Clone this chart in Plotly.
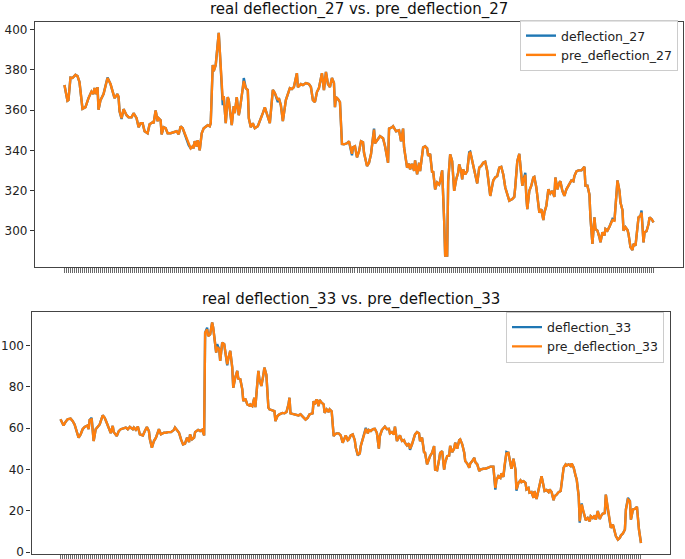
import plotly.graph_objects as go

# --- deflection_27 (top panel) ---
t27 = [0, 3, 4, 6, 8, 11, 13, 15, 18, 21, 24, 27, 29, 30, 32, 33, 34, 36, 39, 41,
       43, 46, 48, 50, 53, 54, 55, 57, 59, 62, 64, 67, 69, 72, 74, 76, 78, 80, 83, 85,
       88, 89, 91, 93, 94, 96, 97, 99, 101, 103, 106, 109, 112, 114, 116, 118, 121, 124, 126, 128,
       129, 130, 132, 133, 135, 137, 139, 143, 145, 146, 148, 149, 151, 154, 155, 158, 159, 161, 163, 164,
       167, 169, 170, 172, 174, 175, 178, 179, 181, 183, 184, 186, 188, 190, 193, 196, 198, 200, 203, 205,
       208, 210, 213, 214, 216, 218, 221, 223, 225, 227, 229, 232, 233, 236, 238, 241, 244, 246, 248, 250,
       252, 254, 255, 257, 259, 261, 263, 265, 267, 269, 270, 271, 273, 275, 277, 279, 282, 284, 287, 288,
       290, 292, 294, 296, 298, 299, 302, 304, 306, 309, 310, 313, 315, 318, 320, 323, 324, 327, 328, 331,
       334, 336, 338, 339, 342, 344, 345, 347, 349, 350, 352, 354, 355, 358, 360, 362, 363, 365, 367, 368,
       370, 372, 374, 375, 377, 379, 380, 382, 383, 385, 387, 389, 391, 393, 394, 396, 397, 398, 400, 402,
       404, 405, 407, 409, 410, 412, 414, 416, 418, 420, 422, 424, 425, 428, 430, 432, 434, 436, 438, 440,
       442, 444, 447, 449, 450, 452, 454, 455, 457, 458, 460, 461, 462, 464, 466, 468, 469, 471, 473, 474,
       476, 478, 479, 481, 483, 485, 487, 489, 490, 492, 494, 495, 497, 499, 501, 503, 504, 506, 508, 509,
       511, 513, 516, 518, 519, 520, 522, 524, 525, 527, 529, 530, 532, 534, 535, 537, 539, 540, 542, 544,
       545, 547, 549, 550, 552, 554, 555, 557, 558, 560, 562, 563, 565, 567, 568, 570, 572, 573, 575, 576,
       578, 579, 581, 583, 584, 586, 588]

pre27 = [372.5, 364.7, 365, 376.2, 376, 377.6, 377, 374, 360.7, 361.5, 366, 369.3, 368, 371, 368, 371.5, 360.2, 365, 368, 371.5,
         376, 373, 369, 366, 368, 366.5, 359.4, 356, 360.5, 357.5, 356.5, 356.5, 358.5, 356, 351.5, 353.5, 353.5, 349.5, 348.5, 353,
         354, 353.5, 359.8, 354.5, 356, 355, 347.9, 351.5, 351, 348.5, 348.5, 349, 349.5, 348, 352, 351, 347, 343, 341, 342,
         341, 344.5, 342, 345, 340, 348.5, 351, 352.5, 352, 353.5, 382.5, 379.5, 382.5, 398.5, 390, 365, 367, 353.5, 366.5, 365,
         352.5, 362, 358.5, 366.5, 357.5, 360, 371, 374.5, 371, 370, 356, 351.5, 353.5, 351, 352, 355.5, 358.5, 361.4, 356, 353.5,
         370.1, 368.5, 365, 366, 362.5, 354.5, 365, 368, 371, 370.5, 371.5, 378.4, 371.5, 373, 372.5, 373.5, 373, 371.5, 365, 364,
         369, 371, 373.5, 378.4, 370, 379, 373, 371.5, 376, 373.5, 361.5, 366.5, 365.5, 364, 343.2, 343, 343.5, 344.5, 338.3, 341.5,
         342, 336.5, 339.5, 344.5, 344, 338.8, 332.2, 333.8, 338.2, 350.3, 343.5, 345.8, 347, 346, 342, 333.8, 350.8, 351.5, 352, 349.5,
         350, 344.5, 350.8, 341.4, 331.4, 333.3, 330.5, 333.3, 329.7, 335, 328.1, 333.8, 329.7, 341.4, 342, 341, 337.3, 338.2, 328.9, 329.7,
         320.6, 324, 323, 324.6, 330, 305, 287.6, 287.6, 324.6, 338, 334.6, 319.8, 325.5, 328.9, 333, 329.5, 325.5, 330.5, 328, 329.7,
         338.3, 339.3, 334.6, 330, 327.2, 323.5, 331.4, 332.2, 333.8, 334.3, 329.7, 319.8, 317.3, 325, 326.5, 327.2, 331.4, 331.8, 328, 321.5,
         318.5, 314.9, 315.7, 316.8, 321.9, 334.6, 338.3, 332.2, 322.4, 325, 327.8, 316.8, 310.7, 319.8, 322.4, 326.5, 326.8, 321.5, 311.5, 309,
         310.7, 305.3, 309, 312.4, 320.6, 318.5, 319.8, 316.8, 326.5, 320.6, 324, 324.6, 319.8, 317.3, 320.6, 322.4, 323, 325, 324.6, 327.2,
         329.5, 330, 330, 331.4, 331.8, 322.4, 322.4, 318, 306.6, 293.4, 306.6, 300.8, 300, 296.7, 294.2, 299.2, 297.6, 300.8, 300, 302,
         303.3, 305.3, 305, 311.5, 325, 319.8, 314, 310.2, 300, 301.7, 300.3, 298.4, 291.7, 290.4, 293.4, 292.5, 302.5, 306.6, 307.4, 309,
         294.2, 299.2, 299.7, 303.3, 306.6, 305.8, 304.1]

real27 = [372.5, 364.7, 365, 376.2, 376, 377.6, 377, 374, 360.7, 361.5, 366, 369.3, 368, 371, 368, 371.5, 360.2, 365, 368, 371.5,
          376.3, 373, 369, 366, 368, 366.5, 359.4, 355.6, 360.5, 357.5, 356.5, 356.5, 358.5, 356, 351.5, 353.5, 353.5, 349.5, 348.5, 353,
          354, 353.5, 359.8, 354.5, 356, 355, 347.9, 351.5, 351, 348.5, 348.5, 349, 349.5, 348, 352, 351, 347, 342.6, 341, 342,
          341, 344.5, 342, 345, 340, 348.5, 351, 352.5, 352, 353.5, 382.5, 379.5, 382.5, 398.5, 390, 362.5, 367, 353.5, 366.5, 365,
          352.5, 362, 358.5, 366.5, 357.5, 360, 371, 376, 371, 370, 356, 351.5, 353.5, 351, 352, 355.5, 358.5, 361.4, 356, 353.5,
          370.1, 368.5, 364, 366, 362.5, 354.5, 365, 368, 371, 370.5, 371.5, 378.4, 371.5, 373, 372.5, 373.5, 373, 371.5, 365, 364,
          369, 371, 373.5, 378.4, 370, 379, 373, 371.5, 376, 373.5, 361.5, 366.5, 365.5, 364, 343.2, 343, 343.5, 344.5, 337.5, 341.5,
          342, 336.5, 339.5, 344.5, 344, 338.8, 332.2, 333.8, 338.2, 350.8, 343.5, 345.8, 347, 346, 342, 333.8, 350.8, 351.5, 352, 349.5,
          350, 344.5, 350.8, 341.4, 331.4, 333.3, 330.5, 333.3, 329.7, 335, 328.1, 333.8, 329.7, 341.4, 342, 341, 337.3, 338.2, 328.9, 329.7,
          320.6, 324, 323, 324.6, 330, 305, 287.6, 287.6, 324.6, 338, 334.6, 319.8, 325.5, 328.9, 333, 329.5, 325.5, 330.5, 328, 329.7,
          339, 339.3, 334.6, 330, 327.2, 323.5, 331.4, 332.2, 333.8, 334.3, 329.7, 318.8, 317.3, 325, 326.5, 327.2, 331.4, 331.8, 328, 321.5,
          318.5, 314.9, 315.7, 316.8, 321.9, 334.6, 338.3, 332.2, 322.4, 325, 328.8, 316.8, 310.7, 319.8, 322.4, 326.5, 326.8, 321.5, 311.5, 309,
          310.7, 305.3, 309, 312.4, 320.6, 318.5, 319.8, 316.8, 326.5, 320.6, 324, 324.6, 319.8, 317.3, 320.6, 322.4, 323, 325, 324.6, 327.2,
          329.5, 330, 330, 331.4, 331.8, 322.4, 322.4, 318, 306.6, 293.4, 306.6, 300.8, 300, 296.7, 294.2, 299.2, 297.6, 300.8, 300, 302,
          303.3, 305.8, 305, 311.5, 325, 319.8, 314, 310.2, 300, 301.7, 300.3, 298.4, 291.7, 290.4, 293.4, 292.5, 302.5, 306.6, 307.4, 310,
          294.2, 299.2, 299.7, 303.3, 306.6, 305.8, 304.1]

# --- deflection_33 (bottom panel) ---
t33 = [0, 2, 3, 5, 7, 10, 12, 14, 16, 18, 20, 22, 24, 27, 28, 29, 31, 33, 35, 37,
       39, 42, 44, 46, 48, 50, 52, 53, 56, 58, 60, 63, 65, 67, 69, 72, 73, 75, 77, 79,
       82, 84, 86, 88, 89, 91, 93, 95, 97, 98, 100, 103, 105, 107, 110, 113, 114, 117, 118, 120,
       122, 124, 126, 128, 129, 131, 133, 134, 137, 139, 141, 143, 144, 146, 147, 149, 151, 152, 154, 155,
       156, 158, 159, 161, 163, 164, 166, 167, 169, 171, 172, 174, 176, 177, 179, 181, 182, 184, 186, 188,
       189, 191, 193, 194, 197, 198, 200, 202, 203, 205, 207, 208, 211, 213, 214, 216, 218, 221, 223, 225,
       227, 228, 229, 232, 234, 237, 239, 242, 244, 246, 248, 251, 252, 253, 255, 257, 258, 260, 262, 263,
       265, 267, 268, 270, 272, 273, 275, 277, 279, 281, 283, 284, 286, 287, 289, 291, 293, 294, 296, 298,
       299, 301, 303, 304, 306, 307, 309, 311, 313, 315, 317, 318, 320, 322, 323, 325, 327, 328, 330, 332,
       333, 335, 337, 338, 340, 342, 343, 345, 347, 348, 350, 352, 353, 355, 357, 358, 360, 362, 363, 365,
       367, 368, 370, 372, 373, 375, 377, 378, 380, 382, 383, 385, 387, 388, 390, 392, 393, 395, 397, 398,
       400, 402, 403, 405, 407, 408, 410, 412, 413, 415, 417, 418, 421, 423, 426, 428, 431, 433, 434, 436,
       438, 439, 441, 442, 444, 446, 448, 449, 451, 453, 454, 456, 458, 459, 461, 463, 464, 466, 467, 469,
       471, 472, 474, 476, 477, 479, 481, 482, 484, 486, 487, 489, 491, 492, 494, 496, 498, 499, 501, 503,
       504, 506, 508, 509, 511, 513, 514, 516, 517, 519, 520, 522, 523, 525, 527, 528, 530, 532, 533, 535,
       537, 538, 540, 542, 543, 545, 547, 548, 550, 552, 553, 555, 557, 558, 560, 562, 563, 565, 567, 568,
       570, 572, 573, 574, 576, 577, 578]

pre33 = [64.3, 61.8, 61.3, 63, 64.3, 64.6, 63.5, 61.8, 58.1, 55.4, 57, 59.5, 60.6, 61.3, 59.5, 64, 64.3, 53.8, 59.5, 60.8,
         61.8, 66.2, 65, 62.6, 60.3, 57.6, 61.1, 58.1, 56.2, 58.6, 59.5, 59.8, 60.3, 59.5, 60.6, 59.5, 60.3, 59.2, 60.8, 57,
         56.5, 58.6, 60.6, 58.6, 54.6, 50.6, 53.8, 55.4, 58.6, 59.5, 57, 57.8, 57.8, 58.1, 58.1, 59.2, 60.3, 58.1, 57.8, 54.6,
         52.2, 52.6, 55.4, 53.3, 57, 54.6, 55.4, 58.1, 59.2, 58.6, 59.2, 56.5, 106.2, 107.8, 104.6, 105.4, 111.1, 108.7, 101.4, 96.6,
         99.2, 98.2, 92.5, 101.4, 100.6, 96.6, 90.9, 93.3, 97.4, 89.3, 79.6, 84.5, 87.7, 84, 83.7, 78.8, 73.1, 74.3, 71.5, 71,
         71.5, 70.7, 74.7, 70.2, 87.7, 83.7, 80.4, 85.8, 89.3, 85.8, 69.9, 69.1, 68.7, 68.2, 63.4, 65.9, 66.7, 67.4, 67.2, 67.8,
         71.5, 74.7, 67.2, 66.7, 66.7, 66.2, 66.7, 65.4, 64.2, 65, 66.7, 67.2, 73.1, 71.5, 73.9, 70.7, 73.6, 72.3, 71.5, 67.4,
         69.1, 67.8, 69.1, 68.2, 56.2, 57, 57.5, 57.5, 56.5, 53, 55.9, 56.5, 54.2, 54.6, 56.5, 57, 54.2, 50.6, 47.3, 47.8,
         51.4, 54.6, 57.5, 59.7, 57.5, 59.1, 58.6, 59.5, 59.7, 57.8, 50.1, 56.2, 59.1, 60.3, 60.8, 59.5, 59.7, 57.5, 58.1, 57,
         60.8, 53.8, 55.4, 56.5, 53.8, 54.2, 53, 51.7, 52.6, 50.1, 52.2, 56.5, 57, 58.1, 57.5, 53.8, 55.4, 48.4, 48.1, 42.5,
         45.7, 46.5, 48.1, 51.4, 40, 39.7, 44.9, 48.1, 48.9, 40, 43.3, 46.5, 46.8, 51.4, 48.4, 50.1, 53, 50.1, 54.2, 54.6,
         52.2, 48.1, 44.1, 42.9, 40.9, 42.9, 44.1, 45.7, 43.6, 42.5, 39.2, 40, 40.4, 40.4, 40.9, 41.4, 41.4, 31.1, 34.8, 36.8,
         36, 38.1, 36.5, 41.7, 47.8, 48.1, 42.9, 40.4, 45.2, 40, 30.4, 33.6, 34.8, 33.9, 34.4, 33.6, 30.4, 31.1, 28.8, 29.1,
         26.3, 29.6, 25.8, 30.4, 33.6, 36.8, 32, 29.6, 30.1, 29.1, 30.4, 29.1, 25.2, 27.1, 27.9, 29.1, 29.6, 33.9, 40.9, 42.5,
         42, 42.5, 41.7, 42.9, 40.9, 36.8, 35.2, 27.1, 15, 23.1, 20.7, 17.4, 15.5, 16.6, 15, 17.4, 16.6, 17.8, 15.8, 19.9,
         16.1, 17.4, 18.7, 19, 27.9, 20.7, 15.8, 11.8, 13.4, 10.2, 7.8, 6.1, 7, 8.1, 9.1, 11, 20.7, 25.5, 24.7, 15.8,
         20.7, 21, 21.5, 22, 11, 6.1, 4.5]

real33 = [64.3, 61.8, 61.3, 63, 64.3, 64.6, 63.5, 61.8, 58.1, 55.4, 57, 59.5, 60.6, 61.3, 59.5, 64, 65, 53.8, 59.5, 60.8,
          61.8, 66.2, 65, 62.6, 60.3, 57.6, 61.1, 58.1, 56.2, 58.6, 59.5, 59.8, 60.3, 59.5, 60.6, 59.5, 60.3, 59.2, 60.8, 57,
          56.5, 58.6, 60.6, 58.6, 54.6, 50.6, 53.8, 55.4, 58.6, 59.5, 57, 57.8, 57.8, 58.1, 58.1, 59.2, 60.3, 58.1, 57.8, 54.6,
          52.2, 52.6, 55.4, 53.3, 57, 54.6, 55.4, 58.1, 59.2, 58.6, 59.2, 56.5, 106.2, 108.6, 104.6, 105.4, 111.1, 108.7, 101.4, 96.6,
          100.6, 98.2, 92.5, 101.4, 100.6, 96.6, 90.4, 93.3, 97.4, 89.3, 79.6, 84.5, 87.7, 84, 83.7, 78.8, 73.1, 74.3, 71.5, 71,
          71.5, 70.7, 74.7, 70.2, 87.7, 83.7, 80.4, 85.8, 89.3, 85.8, 69.9, 69.1, 68.7, 68.2, 63.4, 65.9, 66.7, 67.4, 67.2, 67.8,
          71.5, 74.7, 67.2, 66.7, 66.7, 66.2, 66.7, 65.4, 64.2, 65, 66.7, 67.2, 73.1, 71.5, 73.9, 70.7, 73.6, 72.3, 71.5, 67.4,
          69.1, 67.8, 69.1, 68.2, 56.2, 57, 57.5, 57.5, 56.5, 53, 55.9, 56.5, 54.2, 54.6, 56.5, 57, 54.2, 50.6, 46.8, 47.8,
          51.4, 54.6, 57.5, 60.2, 57.5, 59.1, 58.6, 59.5, 59.7, 57.8, 50.1, 56.2, 59.1, 60.3, 60.8, 59.5, 59.7, 57.5, 58.1, 57,
          60.8, 53.8, 55.4, 56.5, 53.8, 54.2, 53, 51.7, 52.6, 49.6, 52.2, 56.5, 57, 58.1, 57.5, 53.8, 55.4, 48.4, 48.1, 42.5,
          45.7, 46.5, 48.1, 51.4, 40, 39.7, 44.9, 48.1, 48.9, 40, 43.3, 46.5, 46.8, 51.4, 48.4, 50.1, 53, 50.1, 54.2, 54.6,
          52.2, 48.1, 44.1, 42.9, 40.9, 42.9, 44.1, 45.7, 43.6, 42.5, 39.2, 40, 40.4, 40.4, 40.9, 41.4, 41.4, 30.3, 34.8, 36.8,
          36, 38.1, 36.5, 41.7, 48.5, 48.1, 42.9, 40.4, 45.2, 40, 29.8, 33.6, 34.8, 33.9, 34.4, 33.6, 30.4, 31.1, 28.8, 29.1,
          26.3, 29.6, 25.8, 30.4, 33.6, 36.8, 32, 29.6, 30.1, 29.1, 30.4, 29.1, 25.2, 27.1, 27.9, 29.1, 29.6, 33.9, 40.9, 42.5,
          42, 42.5, 41.7, 42.9, 40.9, 36.8, 35.2, 27.1, 14.3, 23.6, 20.7, 17.4, 15.5, 16.6, 15, 17.4, 16.6, 17.8, 15.8, 19.9,
          16.1, 17.4, 18.7, 19, 27.9, 20.7, 15.8, 11.8, 13.4, 10.2, 7.8, 6.1, 7, 8.1, 9.1, 11, 20.7, 26.3, 24.7, 15.8,
          20.7, 21, 21.5, 22, 11, 6.1, 4.5]

BLUE = "#1f77b4"
ORANGE = "#ff7f0e"
FONT = "DejaVu Sans"
W, H = 685, 559


def px_x(x):
    return x / W


def px_y(y):
    return 1 - y / H


def mpl_range(vals):
    # matplotlib-style 5% padding around the data
    lo, hi = min(vals), max(vals)
    pad = (hi - lo) * 0.05
    return [lo - pad, hi + pad]


fig = go.Figure()

panels = [
    ("27", t27, real27, pre27, "x", "y", "legend"),
    ("33", t33, real33, pre33, "x2", "y2", "legend2"),
]
for num, t, real, pre, xa, ya, lg in panels:
    fig.add_trace(go.Scatter(x=t, y=real, mode="lines", name=f"deflection_{num}",
                             line=dict(color=BLUE, width=2.4), xaxis=xa, yaxis=ya, legend=lg))
    fig.add_trace(go.Scatter(x=t, y=pre, mode="lines", name=f"pre_deflection_{num}",
                             line=dict(color=ORANGE, width=2.4), xaxis=xa, yaxis=ya, legend=lg))

axis_common = dict(showline=True, mirror=True, linecolor="#444", linewidth=1.2,
                   showgrid=False, zeroline=False, automargin=False)

xcommon = dict(axis_common, ticks="outside", ticklen=5, tickwidth=1, tickcolor="#6a6a6a",
               showticklabels=False)
ycommon = dict(axis_common, ticks="outside", ticklen=4, tickwidth=1, tickcolor="#333",
               ticklabeloverflow="allow",
               tickfont=dict(family=FONT, size=12, color="#222"))

legend_common = dict(bgcolor="rgba(255,255,255,0.85)", bordercolor="#cccccc", borderwidth=1,
                     font=dict(family=FONT, size=12.5, color="#222"), xanchor="right", yanchor="top",
                     tracegroupgap=0, itemwidth=30)

fig.update_layout(
    width=W, height=H,
    margin=dict(l=0, r=0, t=0, b=0),
    paper_bgcolor="white", plot_bgcolor="white",
    font=dict(family=FONT, color="#222"),
    xaxis=dict(xcommon, domain=[px_x(35), px_x(683)], range=mpl_range(t27),
               tickvals=list(range(0, max(t27) + 1, 2)), anchor="y"),
    yaxis=dict(ycommon, domain=[px_y(266.7), px_y(21.7)], range=mpl_range(real27 + pre27),
               tickvals=[300, 320, 340, 360, 380, 400], anchor="x"),
    xaxis2=dict(xcommon, domain=[px_x(31.5), px_x(670)], range=mpl_range(t33),
                tickvals=list(range(0, max(t33) + 1, 2)), anchor="y2"),
    yaxis2=dict(ycommon, domain=[px_y(554), px_y(311.5)], range=mpl_range(real33 + pre33),
                tickvals=[0, 20, 40, 60, 80, 100], anchor="x2"),
    legend=dict(legend_common, x=px_x(678), y=px_y(20)),
    legend2=dict(legend_common, x=px_x(664), y=px_y(311.5)),
    showlegend=True,
    annotations=[
        dict(text="real deflection_27 vs. pre_deflection_27", xref="paper", yref="paper",
             x=px_x(359), y=px_y(9.5), xanchor="center", yanchor="middle", showarrow=False,
             font=dict(family=FONT, size=15, color="#111")),
        dict(text="real deflection_33 vs. pre_deflection_33", xref="paper", yref="paper",
             x=px_x(351), y=px_y(299.5), xanchor="center", yanchor="middle", showarrow=False,
             font=dict(family=FONT, size=15, color="#111")),
    ],
)

# drop the browser's default 8px body margin so the figure sits at the page origin
fig.write_html("out.html", config={"displayModeBar": False},
               post_script="document.body.style.margin='0';")
